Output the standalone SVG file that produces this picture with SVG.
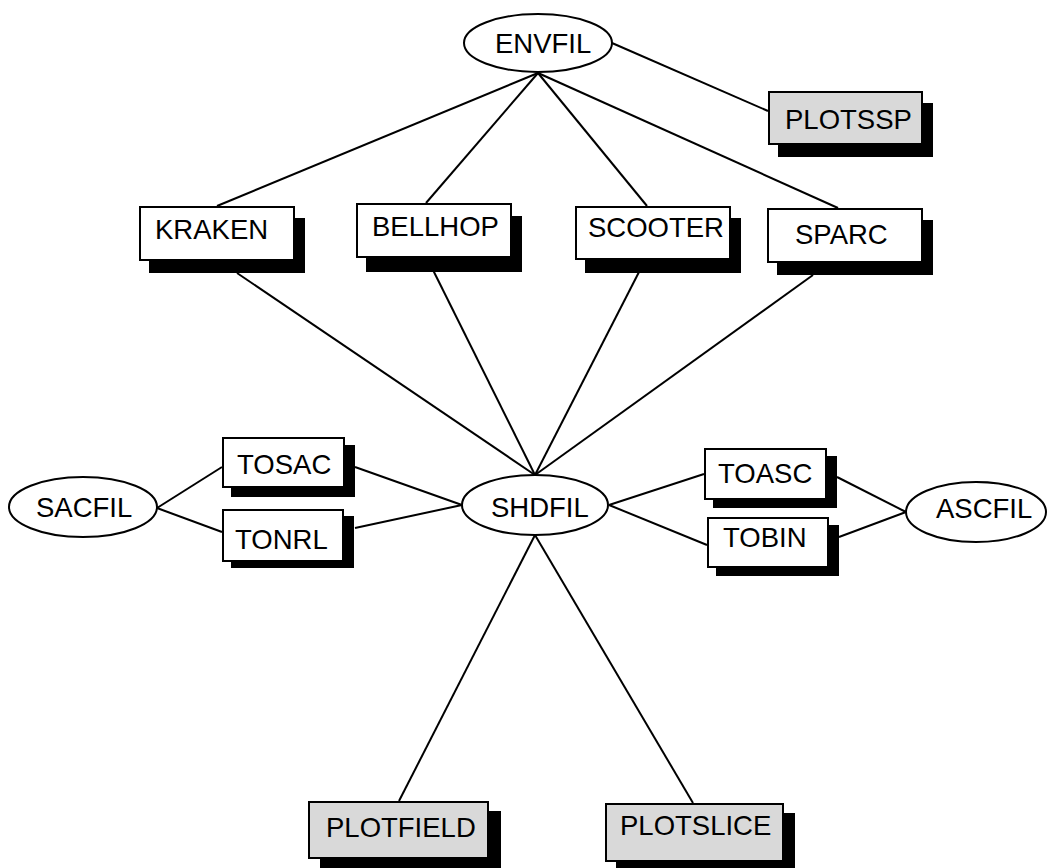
<svg xmlns="http://www.w3.org/2000/svg" width="1048" height="868" viewBox="0 0 1048 868">
<style>
text{font-family:"Liberation Sans",Arial,sans-serif;font-size:27.5px;fill:#000}
.box{fill:#fff;stroke:#000;stroke-width:2}
.gray{fill:#d9d9d9}
.sh{fill:#000}
.ell{fill:#fff;stroke:#000;stroke-width:2}
.ln{stroke:#000;stroke-width:2;fill:none}
</style>
<rect width="1048" height="868" fill="#fff"/>
<g id="connectors">
<line class="ln" x1="538" y1="73" x2="217" y2="206"/>
<line class="ln" x1="538" y1="73" x2="426" y2="203"/>
<line class="ln" x1="538" y1="73" x2="647" y2="206"/>
<line class="ln" x1="538" y1="73" x2="838" y2="208"/>
<line class="ln" x1="612" y1="43" x2="768" y2="111"/>
<line class="ln" x1="237" y1="273" x2="535" y2="475"/>
<line class="ln" x1="433" y1="270" x2="535" y2="475"/>
<line class="ln" x1="639" y1="272" x2="535" y2="475"/>
<line class="ln" x1="813" y1="275" x2="535" y2="475"/>
<line class="ln" x1="157" y1="508" x2="222" y2="467"/>
<line class="ln" x1="157" y1="508" x2="222" y2="532"/>
<line class="ln" x1="355" y1="467" x2="462" y2="505"/>
<line class="ln" x1="355" y1="528" x2="462" y2="505"/>
<line class="ln" x1="609" y1="505" x2="704" y2="474"/>
<line class="ln" x1="609" y1="505" x2="707" y2="545"/>
<line class="ln" x1="837" y1="477" x2="906" y2="512"/>
<line class="ln" x1="839" y1="537" x2="906" y2="512"/>
<line class="ln" x1="535" y1="535" x2="399" y2="801"/>
<line class="ln" x1="535" y1="535" x2="693" y2="803"/>
</g>
<g id="ENVFIL">
<ellipse class="ell" cx="538" cy="43" rx="74" ry="29"/>
<text x="495" y="53">ENVFIL</text>
</g>
<g id="PLOTSSP">
<rect class="sh" x="778" y="103" width="155" height="54"/>
<rect class="box gray" x="769" y="92" width="153" height="52"/>
<text x="785" y="129">PLOTSSP</text>
</g>
<g id="KRAKEN">
<rect class="sh" x="149" y="218" width="156" height="55"/>
<rect class="box" x="140" y="207" width="154" height="53"/>
<text x="155" y="239">KRAKEN</text>
</g>
<g id="BELLHOP">
<rect class="sh" x="366" y="216" width="156" height="56"/>
<rect class="box" x="357" y="204" width="154" height="53"/>
<text x="372" y="236">BELLHOP</text>
</g>
<g id="SCOOTER">
<rect class="sh" x="585" y="218" width="156" height="55"/>
<rect class="box" x="576" y="207" width="154" height="52"/>
<text x="588" y="237">SCOOTER</text>
</g>
<g id="SPARC">
<rect class="sh" x="777" y="220" width="156" height="55"/>
<rect class="box" x="768" y="209" width="154" height="53"/>
<text x="795" y="244">SPARC</text>
</g>
<g id="SACFIL">
<ellipse class="ell" cx="83" cy="507" rx="74" ry="30"/>
<text x="36" y="517">SACFIL</text>
</g>
<g id="TOSAC">
<rect class="sh" x="231" y="445" width="124" height="52"/>
<rect class="box" x="223" y="438" width="121" height="49"/>
<text x="237" y="474">TOSAC</text>
</g>
<g id="TONRL">
<rect class="sh" x="231" y="516" width="123" height="52"/>
<rect class="box" x="223" y="510" width="120" height="51"/>
<text x="235" y="549">TONRL</text>
</g>
<g id="SHDFIL">
<ellipse class="ell" cx="535" cy="505" rx="73" ry="30"/>
<text x="491" y="517">SHDFIL</text>
</g>
<g id="TOASC">
<rect class="sh" x="713" y="456" width="124" height="52"/>
<rect class="box" x="705" y="449" width="121" height="50"/>
<text x="718" y="483">TOASC</text>
</g>
<g id="TOBIN">
<rect class="sh" x="716" y="525" width="123" height="51"/>
<rect class="box" x="708" y="518" width="120" height="49"/>
<text x="723" y="547">TOBIN</text>
</g>
<g id="ASCFIL">
<ellipse class="ell" cx="976" cy="512" rx="70" ry="30"/>
<text x="936" y="518">ASCFIL</text>
</g>
<g id="PLOTFIELD">
<rect class="sh" x="320" y="811" width="181" height="60"/>
<rect class="box gray" x="309" y="802" width="179" height="56"/>
<text x="326" y="837">PLOTFIELD</text>
</g>
<g id="PLOTSLICE">
<rect class="sh" x="616" y="813" width="179" height="58"/>
<rect class="box gray" x="606" y="804" width="177" height="57"/>
<text x="620" y="835">PLOTSLICE</text>
</g>
</svg>
